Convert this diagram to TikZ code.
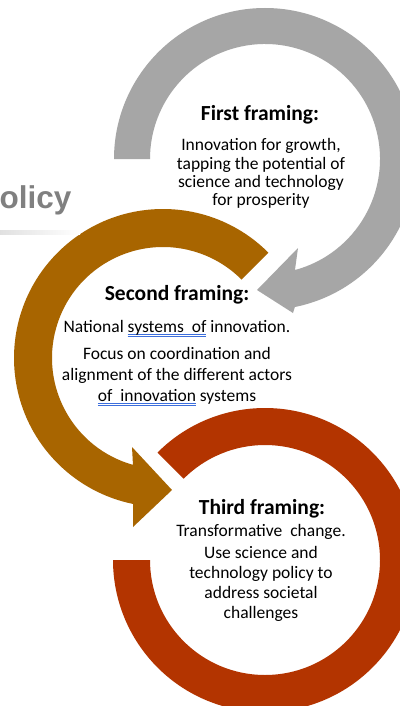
\documentclass[tikz,border=0pt]{standalone}
\usepackage{fontspec}
\setmainfont{Carlito}
\newfontfamily\headfont{Liberation Sans}
\usetikzlibrary{calc}

\definecolor{ringgrey}{RGB}{166,166,166}
\definecolor{ringbrown}{RGB}{168,101,0}
\definecolor{ringred}{RGB}{179,52,0}
\definecolor{titlegrey}{RGB}{128,128,128}
\definecolor{spellblue}{RGB}{60,110,220}

% double blue underline
\newsavebox\spellbox
\newcommand\spellmark[1]{\sbox\spellbox{#1}%
  \rlap{\textcolor{spellblue}{\rule[-1.6pt]{\wd\spellbox}{0.8pt}}}%
  \rlap{\textcolor{spellblue}{\rule[-4.0pt]{\wd\spellbox}{0.8pt}}}%
  \usebox\spellbox}

\begin{document}
\begin{tikzpicture}[x=1pt,y=1pt,
  heading/.style={anchor=base, inner sep=0pt, font=\fontsize{21.5}{24}\selectfont\bfseries},
  bodytext/.style={anchor=north, inner sep=0pt, align=center, font=\fontsize{17.5}{#1}\selectfont},
  bodytext/.default=18.3]

\useasboundingbox (0,0) rectangle (399,-706);
\fill[white] (0,0) rectangle (399,-706);

% ring centres
\coordinate (c1) at (265,-159);
\coordinate (c2) at (163,-358);
\coordinate (c3) at (265,-560);

% arrow heads (tip and barbs)
\coordinate (g-tip) at (257,-290);
\coordinate (g-in)  at (298,-248);
\coordinate (g-out) at (293,-313);
\coordinate (b-tip) at (172,-490);
\coordinate (b-in)  at (132,-447);
\coordinate (b-out) at (133,-527);

% third framing: open ring
\fill[ringred] ($(c3)+(135:152)$) arc[start angle=135,end angle=-180,radius=152]
  -- ($(c3)+(180:115)$) arc[start angle=-180,end angle=135,radius=115] -- cycle;

% second framing: curved arrow into the third ring
\fill[ringbrown] ($(c2)+(45:149)$) arc[start angle=45,end angle=258.4,radius=149]
  -- (b-out) -- (b-tip) -- (b-in)
  -- ($(c2)+(254.3:111)$) arc[start angle=254.3,end angle=45,radius=111] -- cycle;

% first framing: curved arrow into the second ring
\fill[ringgrey] ($(c1)+(180:151)$) arc[start angle=180,end angle=-78.6,radius=151]
  -- (g-out) -- (g-tip) -- (g-in)
  -- ($(c1)+(-74.9:115)$) arc[start angle=-74.9,end angle=180,radius=115] -- cycle;

% title fragment and its fading rule
\node[anchor=base west, inner sep=0pt, text=titlegrey,
      font=\headfont\bfseries\fontsize{31.5}{36}\selectfont] (ttl) at (-0.5,-208) {olicy};
\shade[left color=black!12, right color=white] (0,-230.5) rectangle (80,-234);

% first framing
\node[heading] (h1) at (260,-121) {First framing:};
\node[bodytext] (t1) at (261,-138.6) {Innovation for growth,\\tapping the potential of\\science and technology\\for prosperity};

% second framing
\node[heading] (h2) at (177,-300) {Second framing:};
\node[bodytext=21] (t2) at (177,-320.6) {National \spellmark{systems~ of} innovation.\\[6pt]Focus on coordination and\\alignment of the different actors\\\spellmark{of~ innovation} systems};

% third framing
\node[heading] (h3) at (262,-514) {Third framing:};
\node[bodytext=20] (t3) at (261,-524.1) {Transformative~ change.\\[2pt]Use science and\\technology policy to\\address societal\\challenges};

\end{tikzpicture}
\end{document}
